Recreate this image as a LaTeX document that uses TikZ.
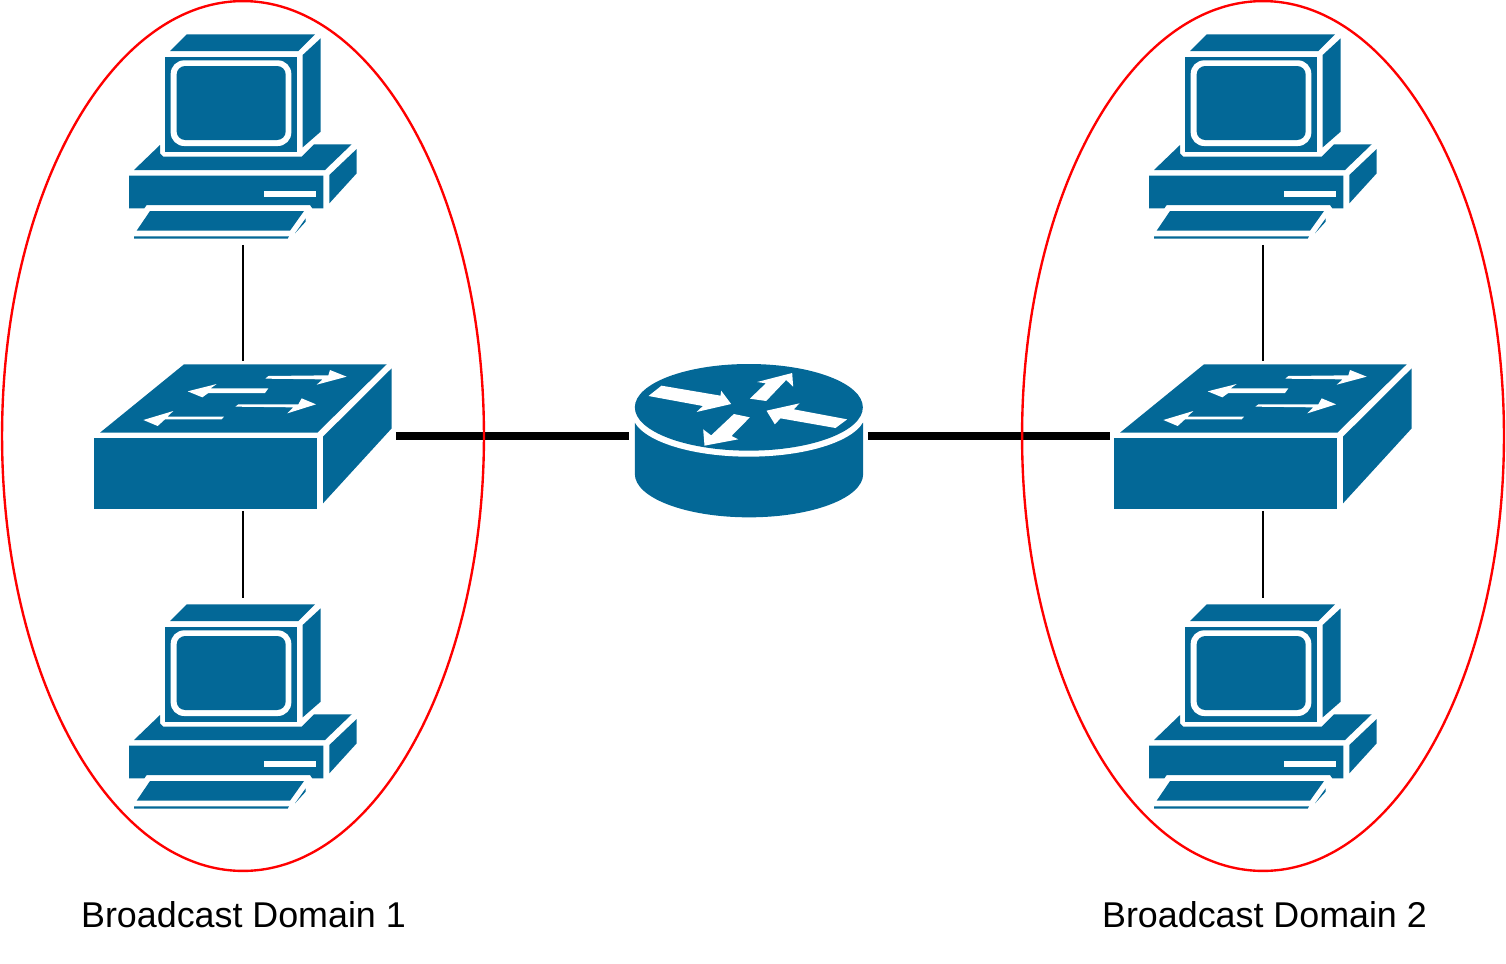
\documentclass[tikz,border=0pt]{standalone}
\usepackage{fontspec}
\setmainfont{Liberation Sans}
\usepackage{xcolor}
\usetikzlibrary{shapes.geometric}
\definecolor{ciscoblue}{HTML}{036897}
\tikzset{
  icon/.style={fill=ciscoblue},
  hole/.style={fill=white},
  pcbox/.style={minimum width=4.8cm,minimum height=4.34cm,inner sep=0pt,outer sep=0pt},
  switchbox/.style={minimum width=6.12cm,minimum height=3cm,inner sep=0pt,outer sep=0pt},
  routerbox/.style={minimum width=4.78cm,minimum height=3.2cm,inner sep=0pt,outer sep=0pt},
  domainring/.style={draw=red,line width=1.35pt,ellipse,minimum width=9.64cm,minimum height=17.4cm,inner sep=0pt,outer sep=0pt},
  thin link/.style={line width=1.35pt},
  thick link/.style={line width=4.4pt},
  caption/.style={inner sep=0pt,font=\fontsize{20.4}{24}\selectfont,anchor=base},
  pc/.pic={
    \begin{scope}[shift={(-399,-349.5)}]
      \fill[icon] (230,43) -- (615,43) -- (565,93) -- (180,93) -- cycle;
      \fill[icon] (632,55) -- (632,335) -- (578,382) -- (578,105) -- cycle;
      \fill[icon] (166,111) rectangle (560,395);
      \fill[hole,rounded corners=.27cm] (182,121) rectangle (544,378);
      \fill[icon,rounded corners=.17cm] (200,138) rectangle (527,360);
      \fill[icon] (150,375) -- (150,400) -- (160,410) -- (575,410) -- (612,373) -- (725,373) -- (645,450) -- (72,450) -- cycle;
      \fill[icon] (57,467) -- (640,467) -- (640,565) -- (607,565) -- (600,555) -- (110,555) -- (103,565) -- (57,565) -- cycle;
      \fill[hole] (463,512) rectangle (617,530);
      \fill[icon] (740,387) -- (740,460) -- (658,550) -- (658,465) -- cycle;
      \fill[icon] (120,573) -- (582,573) -- (540,632) -- (80,632) -- cycle;
      \fill[icon] (587,595) -- (587,605) -- (555,640) -- cycle;
      \fill[icon] (72,649) -- (537,649) -- (533,656) -- (72,656) -- cycle;
    \end{scope}
  },
  switch/.pic={
    \begin{scope}[shift={(-489,-258)}]
      \fill[icon] (312,43) -- (920,43) -- (712,248) -- (60,248) -- cycle;
      \fill[icon] (43,265) rectangle (712,476);
      \fill[icon] (935,55) -- (935,235) -- (729,460) -- (729,260) -- cycle;
      \fill[hole] (556,86) -- (565,78) -- (745,76) -- (750,60) -- (800,80) -- (710,104) -- (728,88) -- cycle;
      \fill[hole] (565,115) -- (392,115) -- (410,102) -- (323,124) -- (367,142) -- (385,129) -- (555,129) -- cycle;
      \fill[hole] (466,170) -- (475,163) -- (655,163) -- (665,145) -- (708,163) -- (622,190) -- (640,172) -- cycle;
      \fill[hole] (432,200) -- (425,208) -- (255,208) -- (233,228) -- (190,210) -- (280,183) -- (262,200) -- cycle;
    \end{scope}
  },
  router/.pic={
    \begin{scope}[shift={(-384,-258)}]
      \fill[icon] (43,218) -- (43,372) arc[start angle=180,end angle=0,x radius=342.5,y radius=130] -- (728,218) -- cycle;
      \fill[hole] (385,190) ellipse[x radius=350,y radius=130];
      \fill[icon] (385,172) ellipse[x radius=342,y radius=130];
      \fill[hole] (123,107) -- (300,137) -- (302,122) -- (332,162) -- (228,186) -- (247,168) -- (84,138) -- cycle;
      \fill[hole] (388,146) -- (436,100) -- (410,96) -- (515,69) -- (518,110) -- (497,90) -- (437,153) -- cycle;
      \fill[hole] (680,208) -- (645,234) -- (480,205) -- (463,223) -- (438,182) -- (537,160) -- (520,178) -- cycle;
      \fill[hole] (340,192) -- (388,202) -- (333,258) -- (353,268) -- (252,287) -- (248,238) -- (272,256) -- cycle;
    \end{scope}
  }
}
\begin{document}
\begin{tikzpicture}[x=0.02cm,y=-0.02cm]
  \useasboundingbox (0,0) rectangle (1506,963);
  \node[pcbox] (pcA) at (243,136.5) {};
  \node[pcbox] (pcB) at (243,706.5) {};
  \node[pcbox] (pcC) at (1263,136.5) {};
  \node[pcbox] (pcD) at (1263,706.5) {};
  \node[switchbox] (swA) at (243,436) {};
  \node[switchbox] (swB) at (1263,436) {};
  \node[routerbox] (rt) at (748.5,436) {};
  \foreach \n in {pcA,pcB,pcC,pcD} {
    \pic[scale=1/3] at (\n) {pc};
  }
  \foreach \n in {swA,swB} {
    \pic[scale=1/3] at (\n) {switch};
  }
  \pic[scale=1/3] at (rt) {router};
  \draw[thin link] (pcA) -- (swA);
  \draw[thin link] (swA) -- (pcB);
  \draw[thin link] (pcC) -- (swB);
  \draw[thin link] (swB) -- (pcD);
  \draw[thick link] (swA) -- (rt);
  \draw[thick link] (rt) -- (swB);
  \node[domainring] (domA) at (243,436) {};
  \node[domainring] (domB) at (1263,436) {};
  \node[caption] (capA) at (243.5,927) {Broadcast Domain 1};
  \node[caption] (capB) at (1264.5,927) {Broadcast Domain 2};
\end{tikzpicture}
\end{document}
